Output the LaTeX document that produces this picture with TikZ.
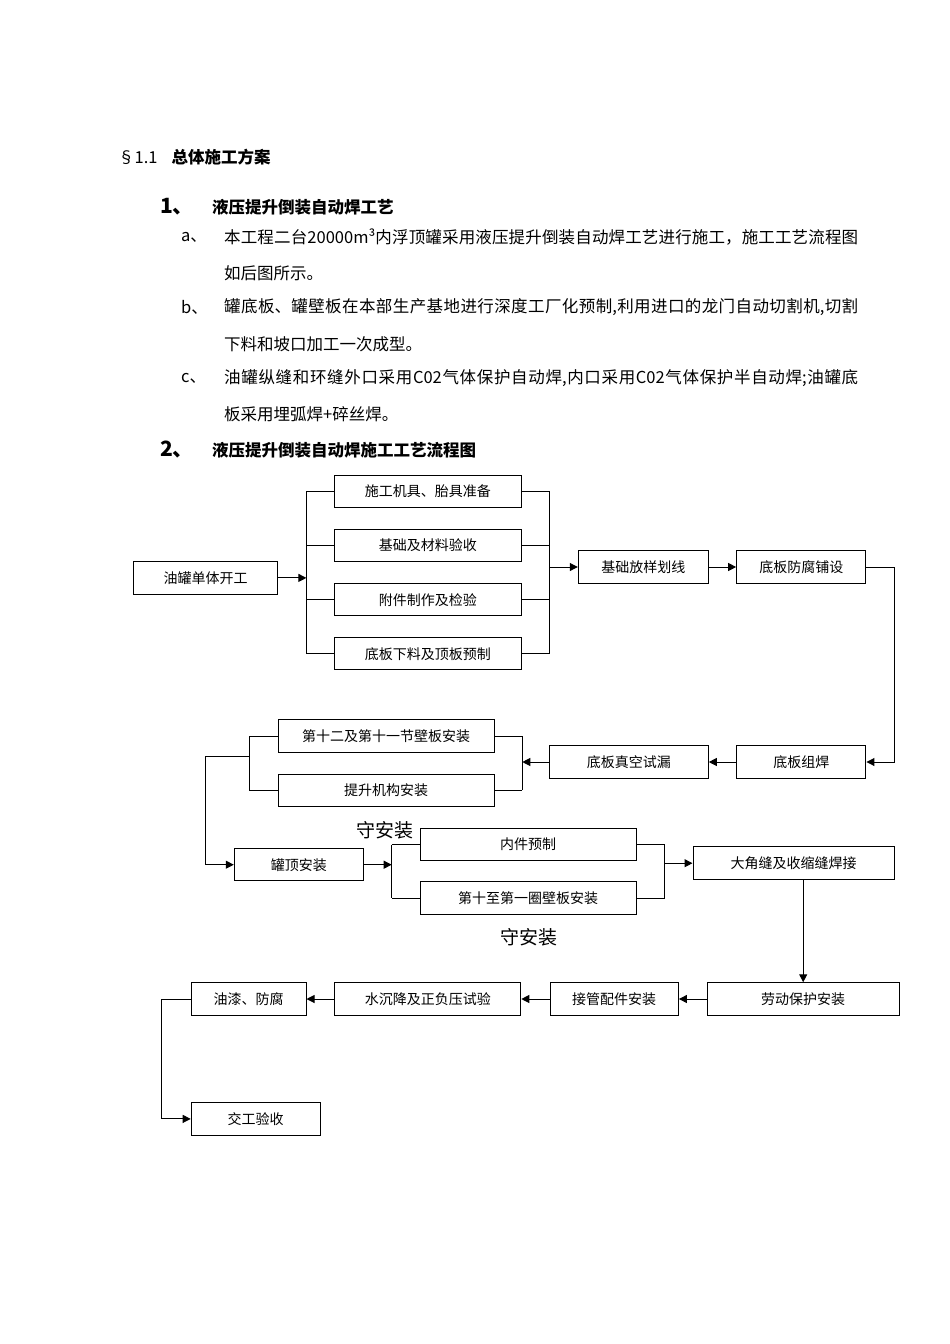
\documentclass[tikz,border=0pt]{standalone}
\usepackage{fontspec}
\setmainfont{Noto Sans CJK SC}
\usetikzlibrary{arrows.meta}
\XeTeXlinebreaklocale "zh"
\XeTeXlinebreakskip=0pt plus 3pt

\newcommand{\fullline}[1]{\parbox{634pt}{\parfillskip=0pt #1}}

\begin{document}
\begin{tikzpicture}[x=1pt,y=-1pt,
  box/.style={draw,line width=1pt,minimum height=32.5pt,inner sep=0pt,
    font=\fontsize{14}{15}\selectfont},
  link/.style={line width=1pt},
  flow/.style={line width=1pt,-{Triangle[length=8pt,width=8pt]}},
  body/.style={anchor=west,inner sep=0pt,font=\fontsize{16.5}{18}\selectfont},
  head/.style={anchor=west,inner sep=0pt,font=\bfseries\fontsize{16.5}{18}\selectfont},
  num/.style={anchor=west,inner sep=0pt,font=\bfseries\fontsize{21}{22}\selectfont},
  note/.style={inner sep=0pt,font=\fontsize{19}{20}\selectfont}]
  \useasboundingbox (0,0) rectangle (950,1344);

  % text above the chart
  \node[body] (sec) at (118,157) {§1.1\hspace{14pt}\textbf{总体施工方案}};
  \node[num] (n1) at (160,207) {1、};
  \node[head] (t1) at (212,207) {液压提升倒装自动焊工艺};
  \node[body] (ia) at (181,237) {a、};
  \node[body] (a1) at (224,237) {\fullline{本工程二台20000m³内浮顶罐采用液压提升倒装自动焊工艺进行施工，施工工艺流程图}};
  \node[body] (a2) at (224,273) {如后图所示。};
  \node[body] (ib) at (181,307) {b、};
  \node[body] (b1) at (224,307) {\fullline{罐底板、罐壁板在本部生产基地进行深度工厂化预制,利用进口的龙门自动切割机,切割}};
  \node[body] (b2) at (224,344) {下料和坡口加工一次成型。};
  \node[body] (ic) at (181,378) {c、};
  \node[body] (c1) at (224,378) {\fullline{油罐纵缝和环缝外口采用C02气体保护自动焊,内口采用C02气体保护半自动焊;油罐底}};
  \node[body] (c2) at (224,414) {板采用埋弧焊+碎丝焊。};
  \node[num] (n2) at (160,450) {2、};
  \node[head] (t2) at (212,450) {液压提升倒装自动焊施工工艺流程图};

  % first row
  \node[box,minimum width=144pt] (start) at (205.6,577.9) {油罐单体开工};
  \node[box,minimum width=187.5pt] (tools) at (427.8,491.3) {施工机具、胎具准备};
  \node[box,minimum width=187.5pt] (base) at (427.8,545.5) {基础及材料验收};
  \node[box,minimum width=187.5pt] (parts) at (427.8,599.7) {附件制作及检验};
  \node[box,minimum width=187.5pt] (plate) at (427.8,653.7) {底板下料及顶板预制};
  \node[box,minimum width=130pt] (mark) at (643.3,567) {基础放样划线};
  \node[box,minimum width=129.3pt] (coat) at (801.3,567) {底板防腐铺设};

  % second row
  \node[box,minimum width=129.3pt] (weld) at (801.3,762) {底板组焊};
  \node[box,minimum width=159pt] (vacuum) at (628.8,762) {底板真空试漏};
  \node[box,minimum width=215.7pt] (shell12) at (386.2,736.2) {第十二及第十一节壁板安装};
  \node[box,minimum width=215.7pt] (lift) at (386.2,790.3) {提升机构安装};

  % third row
  \node[box,minimum width=129pt] (roof) at (298.8,864.7) {罐顶安装};
  \node[box,minimum width=216pt] (inner) at (528,844.5) {内件预制};
  \node[box,minimum width=216pt] (shell10) at (528,898) {第十至第一圈壁板安装};
  \node[box,minimum width=201pt] (corner) at (793.5,863.2) {大角缝及收缩缝焊接};
  \node[note] (noteA) at (385,830) {守安装};
  \node[note] (noteB) at (528.5,937) {守安装};

  % fourth row
  \node[box,minimum width=191.6pt] (guard) at (803.2,999) {劳动保护安装};
  \node[box,minimum width=128.4pt] (nozzle) at (614.2,999) {接管配件安装};
  \node[box,minimum width=186pt] (test) at (427.8,999) {水沉降及正负压试验};
  \node[box,minimum width=114.8pt] (finish) at (248.6,999) {油漆、防腐};
  \node[box,minimum width=128.8pt] (handover) at (255.6,1118.9) {交工验收};

  % brackets and arrows
  \coordinate (splitA) at (306.4,577.9);
  \coordinate (joinA) at (549.7,567);
  \draw[flow] (start.east) -- (splitA);
  \foreach \n in {tools,base,parts,plate} {
    \draw[link] (\n.west) -- (\n.west -| splitA);
    \draw[link] (\n.east) -- (\n.east -| joinA);
  }
  \draw[link] (tools.west -| splitA) -- (plate.west -| splitA);
  \draw[link] (tools.east -| joinA) -- (plate.east -| joinA);
  \draw[flow] (joinA) -- (mark.west);
  \draw[flow] (mark) -- (coat);
  \draw[flow] (coat.east) -- ++(28,0) |- (weld.east);
  \draw[flow] (weld) -- (vacuum);

  \coordinate (joinB) at (522.3,762);
  \coordinate (splitB) at (249.3,756.7);
  \draw[flow] (vacuum.west) -- (joinB);
  \foreach \n in {shell12,lift} {
    \draw[link] (\n.east) -- (\n.east -| joinB);
    \draw[link] (\n.west) -- (\n.west -| splitB);
  }
  \draw[link] (shell12.east -| joinB) -- (lift.east -| joinB);
  \draw[link] (shell12.west -| splitB) -- (lift.west -| splitB);
  \draw[flow] (splitB) -- ++(-44.3,0) |- (roof.west);

  \coordinate (splitC) at (391.7,864.7);
  \coordinate (joinC) at (664.8,863.2);
  \draw[flow] (roof.east) -- (splitC);
  \foreach \n in {inner,shell10} {
    \draw[link] (\n.west) -- (\n.west -| splitC);
    \draw[link] (\n.east) -- (\n.east -| joinC);
  }
  \draw[link] (inner.west -| splitC) -- (shell10.west -| splitC);
  \draw[link] (inner.east -| joinC) -- (shell10.east -| joinC);
  \draw[flow] (joinC) -- (corner.west);

  \draw[flow] (corner.south -| guard.north) -- (guard.north);
  \draw[flow] (guard) -- (nozzle);
  \draw[flow] (nozzle) -- (test);
  \draw[flow] (test) -- (finish);
  \draw[flow] (finish.west) -- ++(-29,0) |- (handover.west);
\end{tikzpicture}
\end{document}
